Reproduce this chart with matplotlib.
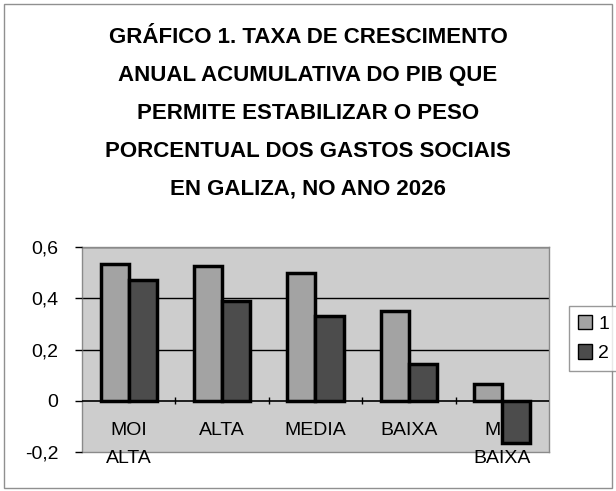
import numpy as np
import matplotlib.pyplot as plt
from matplotlib.patches import Rectangle, Patch

# data
categories = ['MOI\nALTA', 'ALTA', 'MEDIA', 'BAIXA', 'MOI\nBAIXA']
serie_1 = [0.532, 0.527, 0.497, 0.350, 0.065]
serie_2 = [0.471, 0.388, 0.330, 0.143, -0.165]
series_labels = ['1', '2']
yticks = [-0.2, 0, 0.2, 0.4, 0.6]
ytick_labels = ['-0,2', '0', '0,2', '0,4', '0,6']

title = ('GRÁFICO 1. TAXA DE CRESCIMENTO\n'
         'ANUAL ACUMULATIVA DO PIB QUE\n'
         'PERMITE ESTABILIZAR O PESO\n'
         'PORCENTUAL DOS GASTOS SOCIAIS\n'
         'EN GALIZA, NO ANO 2026')

plt.rcParams['font.family'] = ['Liberation Sans', 'DejaVu Sans']

fig = plt.figure(figsize=(6.16, 4.91), dpi=100)
ax = fig.add_axes([0.1331, 0.0794, 0.7581, 0.4175])

col1 = '#a3a3a3'
col2 = '#4c4c4c'
ax.set_facecolor('#cdcdcd')

x = np.arange(len(categories))
w = 0.3
ax.bar(x - w / 2, serie_1, width=w, color=col1, edgecolor='black', linewidth=2.5, zorder=3)
ax.bar(x + w / 2, serie_2, width=w, color=col2, edgecolor='black', linewidth=2.5, zorder=3)

ax.set_xlim(-0.5, len(categories) - 0.5)
ax.set_ylim(-0.2, 0.6)
ax.set_yticks(yticks)
ax.set_yticklabels(ytick_labels, fontsize=14)
ax.tick_params(axis='y', length=5, width=1, pad=12, color='black')
ax.set_xticks([])

for v in [0.2, 0.4, 0.6]:
    ax.axhline(v, color='black', linewidth=1, zorder=1)
ax.axhline(0, color='black', linewidth=1.2, zorder=4)
# small ticks on the zero line between categories
ax.vlines(x[:-1] + 0.5, -0.013, 0.013, color='black', linewidth=1, zorder=4)

for xi, lab in zip(x, categories):
    ax.text(xi, -0.082, lab, ha='center', va='top', fontsize=14,
            linespacing=1.9, zorder=2, clip_on=False)

for s in ax.spines.values():
    s.set_color('#8a8a8a')
    s.set_linewidth(1)
    s.set_zorder(1)

fig.text(0.5, 0.946, title, ha='center', va='top', fontsize=16,
         fontweight='bold', linespacing=2.07)

handles = [Patch(facecolor=col1, edgecolor='black', linewidth=1),
           Patch(facecolor=col2, edgecolor='black', linewidth=1)]
leg = fig.legend(handles, series_labels, loc='upper left',
                 bbox_to_anchor=(569 / 616, 1 - 306 / 491), fontsize=14,
                 frameon=True, fancybox=False, handlelength=0.75, handleheight=0.75,
                 handletextpad=0.3, borderpad=0.45, labelspacing=0.6,
                 borderaxespad=0)
leg.get_frame().set_edgecolor('#808080')
leg.get_frame().set_linewidth(1)

# outer chart border
fig.patches.append(Rectangle((4 / 616, 3 / 491), 1 - 8 / 616, 1 - 7 / 491,
                             transform=fig.transFigure, fill=False,
                             edgecolor='#909090', linewidth=1))

fig.savefig('out.png', dpi=100)
